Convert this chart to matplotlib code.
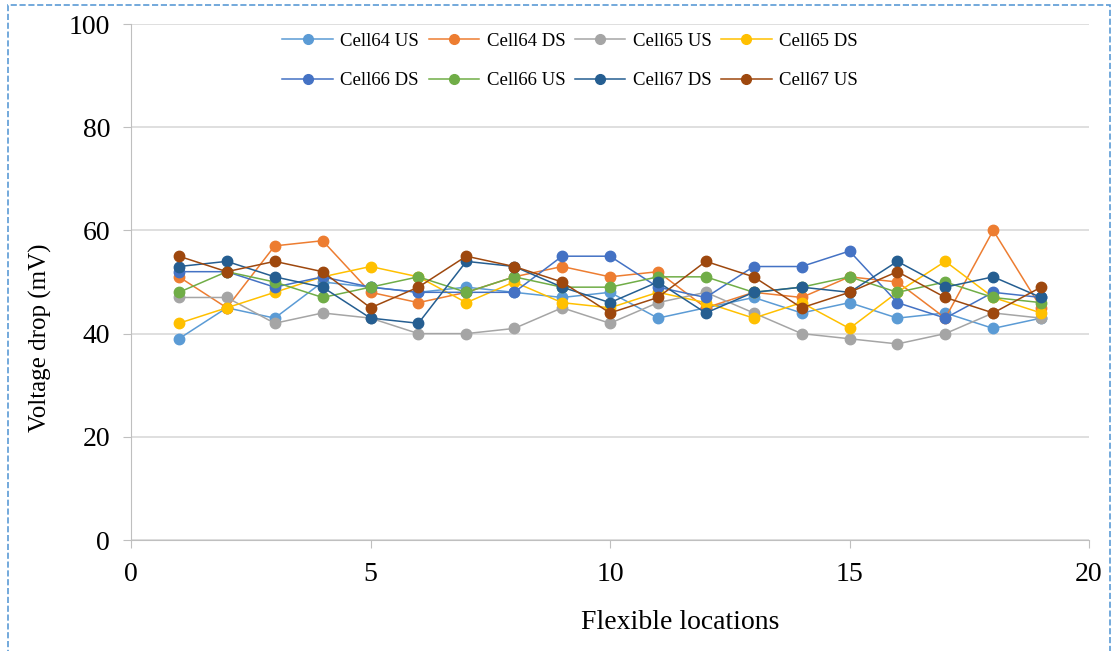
import matplotlib
matplotlib.use('agg')
import matplotlib.pyplot as plt
from matplotlib.lines import Line2D

plt.rcParams['font.family'] = ['Liberation Serif', 'DejaVu Serif']

locations = list(range(1, 20))

cell64_us = [39, 45, 43, 50, 49, 48, 49, 48, 47, 48, 43, 45, 47, 44, 46, 43, 44, 41, 43]
cell64_ds = [51, 45, 57, 58, 48, 46, 48, 51, 53, 51, 52, 45, 48, 47, 51, 50, 43, 60, 45]
cell65_us = [47, 47, 42, 44, 43, 40, 40, 41, 45, 42, 46, 48, 44, 40, 39, 38, 40, 44, 43]
cell65_ds = [42, 45, 48, 51, 53, 51, 46, 50, 46, 45, 48, 46, 43, 46, 41, 48, 54, 47, 44]
cell66_ds = [52, 52, 49, 51, 49, 48, 48, 48, 55, 55, 49, 47, 53, 53, 56, 46, 43, 48, 47]
cell66_us = [48, 52, 50, 47, 49, 51, 48, 51, 49, 49, 51, 51, 48, 49, 51, 48, 50, 47, 46]
cell67_ds = [53, 54, 51, 49, 43, 42, 54, 53, 49, 46, 50, 44, 48, 49, 48, 54, 49, 51, 47]
cell67_us = [55, 52, 54, 52, 45, 49, 55, 53, 50, 44, 47, 54, 51, 45, 48, 52, 47, 44, 49]

series = [('Cell64 US', cell64_us, '#5B9BD5'),
          ('Cell64 DS', cell64_ds, '#ED7D31'),
          ('Cell65 US', cell65_us, '#A5A5A5'),
          ('Cell65 DS', cell65_ds, '#FFC000'),
          ('Cell66 DS', cell66_ds, '#4472C4'),
          ('Cell66 US', cell66_us, '#70AD47'),
          ('Cell67 DS', cell67_ds, '#255E91'),
          ('Cell67 US', cell67_us, '#9E480E')]

fig = plt.figure(figsize=(11.15, 6.51), dpi=100)
ax = fig.add_axes([131 / 1115, 1 - 540 / 651, 958 / 1115, 516 / 651])

for name, values, colour in series:
    ax.plot(locations, values, color=colour, linewidth=1.1, marker='o',
            markersize=7.5, label=name)

ax.set_xlim(0, 20)
ax.set_ylim(0, 100)
ax.set_xticks([0, 5, 10, 15, 20])
ax.set_yticks([0, 20, 40, 60, 80, 100])
ax.grid(axis='y', color='#D9D9D9', linewidth=1.2)
ax.set_axisbelow(True)
for side in ['top', 'right']:
    ax.spines[side].set_visible(False)
for side in ['left', 'bottom']:
    ax.spines[side].set_color('#BFBFBF')
ax.tick_params(colors='#BFBFBF', labelcolor='black', labelsize=20, length=6)
ax.tick_params(axis='x', pad=10)
ax.tick_params(axis='y', pad=9)

ax.set_xlabel('Flexible locations', fontsize=20)
ax.xaxis.set_label_coords((680 - 131) / 958, (540 - 610) / 516)
ax.set_ylabel('Voltage drop (mV)', fontsize=18)
ax.yaxis.set_label_coords((52 - 131) / 958, (540 - 338) / 516)

# legend reads across rows, so reorder for matplotlib's column filling
order = [0, 4, 1, 5, 2, 6, 3, 7]
handles = [Line2D([], [], color=series[i][2], linewidth=1.1, marker='o',
                  markersize=7) for i in order]
labels = [series[i][0] for i in order]
fig.legend(handles, labels, ncol=4, frameon=False,
           loc='center', bbox_to_anchor=(570 / 1115, 1 - 61 / 651),
           fontsize=13.5, handlelength=2.7, handletextpad=0.4,
           columnspacing=0.5, labelspacing=1.2)

# dashed frame around the chart
border = plt.Rectangle((8 / 1115, -0.05), 1102 / 1115, 1.05 - 5 / 651,
                       transform=fig.transFigure, fill=False,
                       edgecolor='#5B9BD5', linestyle='--', linewidth=1.2,
                       clip_on=False)
fig.patches.append(border)

fig.savefig('out.png', dpi=100)
